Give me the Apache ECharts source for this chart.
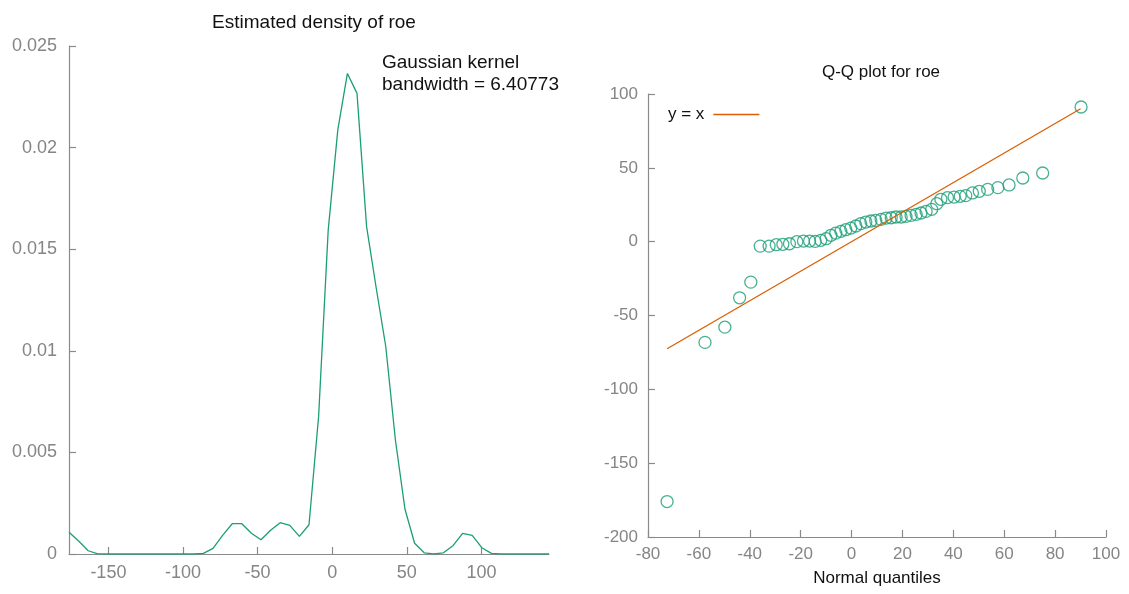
<!DOCTYPE html>
<html>
<head>
<meta charset="utf-8">
<script src="https://cdn.jsdelivr.net/npm/echarts@6/dist/echarts.min.js"></script>
<style>
html,body{margin:0;padding:0;background:#fff;}
#main{width:1129px;height:594px;}
</style>
</head>
<body>
<div id="main"></div>
<script>
// ---- Data ----
const densityX = [-176.4,-169.97,-163.53,-157.1,-150.66,-144.23,-137.8,-131.36,-124.93,-118.49,
  -112.06,-105.63,-99.19,-92.76,-86.32,-79.89,-73.46,-67.02,-60.59,-54.15,
  -47.72,-41.29,-34.85,-28.42,-21.98,-15.55,-9.12,-2.68,3.75,10.19,
  16.62,23.05,29.49,35.92,42.36,48.79,55.22,61.66,68.09,74.53,
  80.96,87.39,93.83,100.26,106.7,113.13,119.56,126.0,132.43,138.87,145.3];
const densityY = [0.00107,0.00064,0.00016,0.00001,0,0,0,0,0,0,
  0,0,0,0,0.00003,0.00028,0.00092,0.00149,0.00149,0.00102,
  0.0007,0.00117,0.00154,0.00141,0.00087,0.00144,0.00676,0.01594,0.02087,0.02365,
  0.02267,0.01611,0.01309,0.0102,0.00561,0.0022,0.00053,0.00006,0.00001,0.00006,
  0.00041,0.00102,0.00092,0.00031,0.00003,0,0,0,0,0,0];

const qqTheoretical = [-72.5,-57.6,-49.8,-44.0,-39.6,-35.9,-32.4,-29.6,-27.0,-24.4,
  -21.5,-18.9,-16.5,-14.3,-12.1,-10.0,-8.1,-6.2,-4.2,-2.25,
  -0.3,1.7,3.6,5.6,7.6,9.5,11.6,13.6,15.6,17.5,
  19.5,21.4,23.4,25.4,27.3,29.3,31.5,33.5,35.1,37.7,
  40.3,42.7,44.9,47.5,50.2,53.5,57.5,61.9,67.3,75.1,90.2];
const qqObserved = [-176,-68.2,-57.9,-38.0,-27.4,-3.0,-3.0,-2.05,-1.8,-1.4,
  0,0.4,0.4,0.2,0.9,2.0,4.3,5.8,7.0,8.1,
  9.2,10.6,12.2,13.3,14.0,14.4,15.1,16.0,16.2,16.7,
  16.7,17.1,17.8,18.5,19.4,20.5,21.9,25.7,28.7,29.8,
  30.2,30.7,31.2,33.0,34.1,35.4,36.6,38.4,43.1,46.5,91.2];
const refLineX = [-72.5, 90];

const densityTicks = [-150,-100,-50,0,50,100];
const titleLeft = 'Estimated density of roe';
const titleRight = 'Q-Q plot for roe';
const annotation = ['Gaussian kernel', 'bandwidth = 6.40773'];
const xNameRight = 'Normal quantiles';
const legendName = 'y = x';

// ---- Build ----
const GREEN = '#1b9e77', ORANGE = '#d95f02';
const AXIS = '#8a8a8a', LABEL = '#858585';
const FONT = '"Liberation Sans", Arial, Helvetica, sans-serif';

const densityData = densityX.map((x,i)=>[x, densityY[i]]);
const qqData = qqTheoretical.map((x,i)=>[x, qqObserved[i]]);
const refLine = refLineX.map(v=>[v,v]);

function makeAxis(fs, margin, extra){
  const tick = {show:true, inside:true, length:7, lineStyle:{color:AXIS, width:1.2}};
  const label = {color:LABEL, fontSize:fs, fontFamily:FONT, margin:margin};
  if (extra && extra.custom){ tick.customValues = extra.custom; label.customValues = extra.custom; }
  const ax = {
    type:'value',
    axisLine:{show:true, onZero:false, lineStyle:{color:AXIS, width:1.2}},
    axisTick:tick, axisLabel:label, splitLine:{show:false}
  };
  if (extra){ for (const k in extra){ if (k !== 'custom') ax[k] = extra[k]; } }
  return ax;
}

const chart = echarts.init(document.getElementById('main'), null, {renderer:'canvas'});
chart.setOption({
  animation:false,
  backgroundColor:'#fff',
  textStyle:{fontFamily:FONT},
  title:[
    {text:titleLeft, left:309, top:8, textAlign:'center',
     textStyle:{fontSize:19, fontWeight:'normal', color:'#111', fontFamily:FONT}},
    {text:titleRight, left:876, top:59, textAlign:'center',
     textStyle:{fontSize:17, fontWeight:'normal', color:'#111', fontFamily:FONT}}
  ],
  graphic:[
    {type:'text', left:382, top:52,
     style:{text:annotation.join('\n'), font:'19px '+FONT, fill:'#111', lineHeight:22}}
  ],
  legend:{
    data:[{name:legendName, icon:'rect'}], left:663, top:101, align:'right',
    itemWidth:46, itemHeight:1.5, itemGap:10,
    textStyle:{fontSize:17, color:'#111', fontFamily:FONT, padding:[0,4,0,0]}
  },
  grid:[
    {left:69, top:46, width:480, height:508, containLabel:false},
    {left:648, top:94, width:458, height:443, containLabel:false}
  ],
  xAxis:[
    makeAxis(18, 10, {gridIndex:0, min:-176.4, max:145.3, custom:densityTicks}),
    makeAxis(17, 9, {gridIndex:1, min:-80, max:100, interval:20,
      name:xNameRight, nameLocation:'middle', nameGap:33,
      nameTextStyle:{fontSize:17, color:'#111', fontFamily:FONT}})
  ],
  yAxis:[
    makeAxis(18, 12, {gridIndex:0, min:0, max:0.025, interval:0.005}),
    makeAxis(17, 10, {gridIndex:1, min:-200, max:100, interval:50})
  ],
  series:[
    {type:'line', xAxisIndex:0, yAxisIndex:0, data:densityData, symbol:'none',
     lineStyle:{color:GREEN, width:1.3}, itemStyle:{color:GREEN}, silent:true},
    {type:'scatter', xAxisIndex:1, yAxisIndex:1, data:qqData, symbol:'circle', symbolSize:12,
     itemStyle:{color:'rgba(0,0,0,0)', borderColor:GREEN, borderWidth:1.3}, silent:true},
    {type:'line', name:legendName, xAxisIndex:1, yAxisIndex:1, data:refLine, symbol:'none',
     lineStyle:{color:ORANGE, width:1.3}, itemStyle:{color:ORANGE}, silent:true}
  ]
});
</script>
</body>
</html>
